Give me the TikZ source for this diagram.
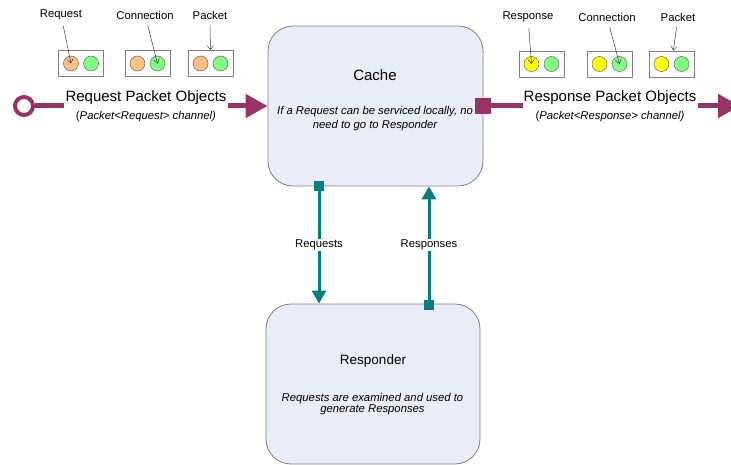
\documentclass[tikz,border=0pt]{standalone}
\usepackage{fontspec}
\setmainfont{Liberation Sans}
\usepackage{xcolor}
\usetikzlibrary{arrows.meta,positioning,calc}
\definecolor{chanpurple}{HTML}{993366}
\definecolor{linkteal}{HTML}{008080}
\definecolor{blockfill}{HTML}{E8EDF7}
\definecolor{reqorange}{HTML}{FFC080}
\definecolor{conngreen}{HTML}{80FF80}
\definecolor{respyellow}{HTML}{FFFF00}

\begin{document}
\begin{tikzpicture}[
	x=1pt,
	y=-1pt,
	block/.style={draw=gray, line width=.8pt, fill=blockfill, rounded corners=25pt,
		minimum width=215pt, minimum height=160pt, inner sep=0pt},
	titletext/.style={font=\fontsize{15}{18}\selectfont, inner sep=1pt},
	notetext/.style={align=center, font=\fontsize{11.3}{13.3}\selectfont\itshape, inner sep=1pt},
	smalltext/.style={font=\fontsize{11.3}{13.5}\selectfont, inner sep=2pt},
	pktbox/.style={draw=gray, line width=.7pt, fill=white, minimum width=45pt, minimum height=26pt, inner sep=0pt},
	pktdot/.style={circle, draw=gray!80!black, line width=.5pt, minimum size=15pt, inner sep=0pt},
	callout/.style={draw=black!75, line width=.5pt, shorten <=4pt, -{Straight Barb[length=4pt,width=6pt]}},
	chanlabel/.style={align=center, font=\fontsize{15}{17.5}\selectfont, inner xsep=1pt, inner ysep=0pt},
	chansrc/.style={circle, draw=chanpurple, line width=4pt, fill=white, minimum size=18pt, inner sep=0pt},
	chanline/.style={draw=chanpurple, line width=5pt},
	chanhead/.style={chanline, -{Triangle[length=22pt,width=23pt]}},
	linklabel/.style={font=\fontsize{11.3}{13.5}\selectfont, inner xsep=2pt, inner ysep=1.2pt},
	tealline/.style={draw=linkteal, line width=3pt},
	tealstart/.style={tealline, {Square[length=10pt,width=10pt]}-},
	tealhead/.style={tealline, -{Triangle[length=13pt,width=14pt]}}
	]
	
	\clip (0,0) rectangle (731,465);
	\fill[white] (0,0) rectangle (731,465);
	
	% the two blocks
	\node[block] (cache) at (375.5,106) {};
	\node[block, minimum width=214pt] (responder) at (373,384) {};
	
	\node[titletext] (cachetitle) at (375,75) {Cache};
	\node[notetext] (cachenote) at (375,118.5) {If a Request can be serviced locally, no\\need to go to Responder};
	\node[titletext, font=\fontsize{13.5}{16}\selectfont] (resptitle) at (373,361) {Responder};
	\node[notetext, font=\fontsize{11.3}{11.8}\selectfont\itshape] (respnote) at (372.5,404) {Requests are examined and used to\\generate Responses};
	
	%------------------------------
	% Links between Cache and Responder
	%------------------------------
	\node[linklabel] (rqlabel) at (319,245) {Requests};
	\node[linklabel] (rslabel) at (429,245) {Responses};
	\draw[tealstart, shorten <=-5pt] (cache.south -| rqlabel) -- (rqlabel);
	\draw[tealhead] (rqlabel) -- (responder.north -| rqlabel);
	\draw[tealstart, shorten <=-6pt] (responder.north -| rslabel) -- (rslabel);
	\draw[tealhead] (rslabel) -- (cache.south -| rslabel);
	
	%------------------------------
	% Request channel (in) and Response channel (out)
	%------------------------------
	\node[chansrc] (reqsrc) at (24,106) {};
	\node[chanlabel] (reqchan) at (146,106) {Request Packet Objects\\{\fontsize{11.3}{13.5}\selectfont\textup{(}\textit{Packet<Request> channel)}}};
	\draw[chanline] (reqsrc) -- (reqchan);
	\draw[chanhead] (reqchan) -- (cache);
	
	\node[chanlabel] (respchan) at (610,106) {Response Packet Objects\\{\fontsize{11.3}{13.5}\selectfont\textup{(}\textit{Packet<Response> channel)}}};
	\coordinate (respout) at (740,106);
	\draw[chanline, {Square[length=16pt,width=16pt]}-, shorten <=-8pt] (cache) -- (respchan);
	\draw[chanhead] (respchan) -- (respout);
	
	%------------------------------
	% Packet objects on each channel
	%------------------------------
	\foreach \bx [count=\n] in {81,147.5,210.5}{
		\node[pktbox] (rqbox\n) at (\bx,63.5) {};
		\node[pktdot, fill=reqorange] (rqa\n) at (\bx-10,63.5) {};
		\node[pktdot, fill=conngreen] (rqb\n) at (\bx+10,63.5) {};
	}
	\foreach \bx [count=\n] in {541.5,609.5,671.5}{
		\node[pktbox] (rsbox\n) at (\bx,64) {};
		\node[pktdot, fill=respyellow] (rsa\n) at (\bx-10,64) {};
		\node[pktdot, fill=conngreen] (rsb\n) at (\bx+10,64) {};
	}
	
	\node[smalltext] (rqname) at (61,15) {Request};
	\node[smalltext] (rqconn) at (145,15) {Connection};
	\node[smalltext] (rqpkt) at (210,15) {Packet};
	\draw[callout] (rqname) -- (rqa1.center);
	\draw[callout] (rqconn) -- (rqb2.center);
	\draw[callout] (rqpkt) -- (rqbox3);
	
	\node[smalltext] (rsname) at (528,17) {Response};
	\node[smalltext] (rsconn) at (607,17) {Connection};
	\node[smalltext] (rspkt) at (678,17) {Packet};
	\draw[callout] (rsname) -- (rsa1.center);
	\draw[callout] (rsconn) -- (rsb2.center);
	\draw[callout] (rspkt) -- (rsbox3);
\end{tikzpicture}
\end{document}
